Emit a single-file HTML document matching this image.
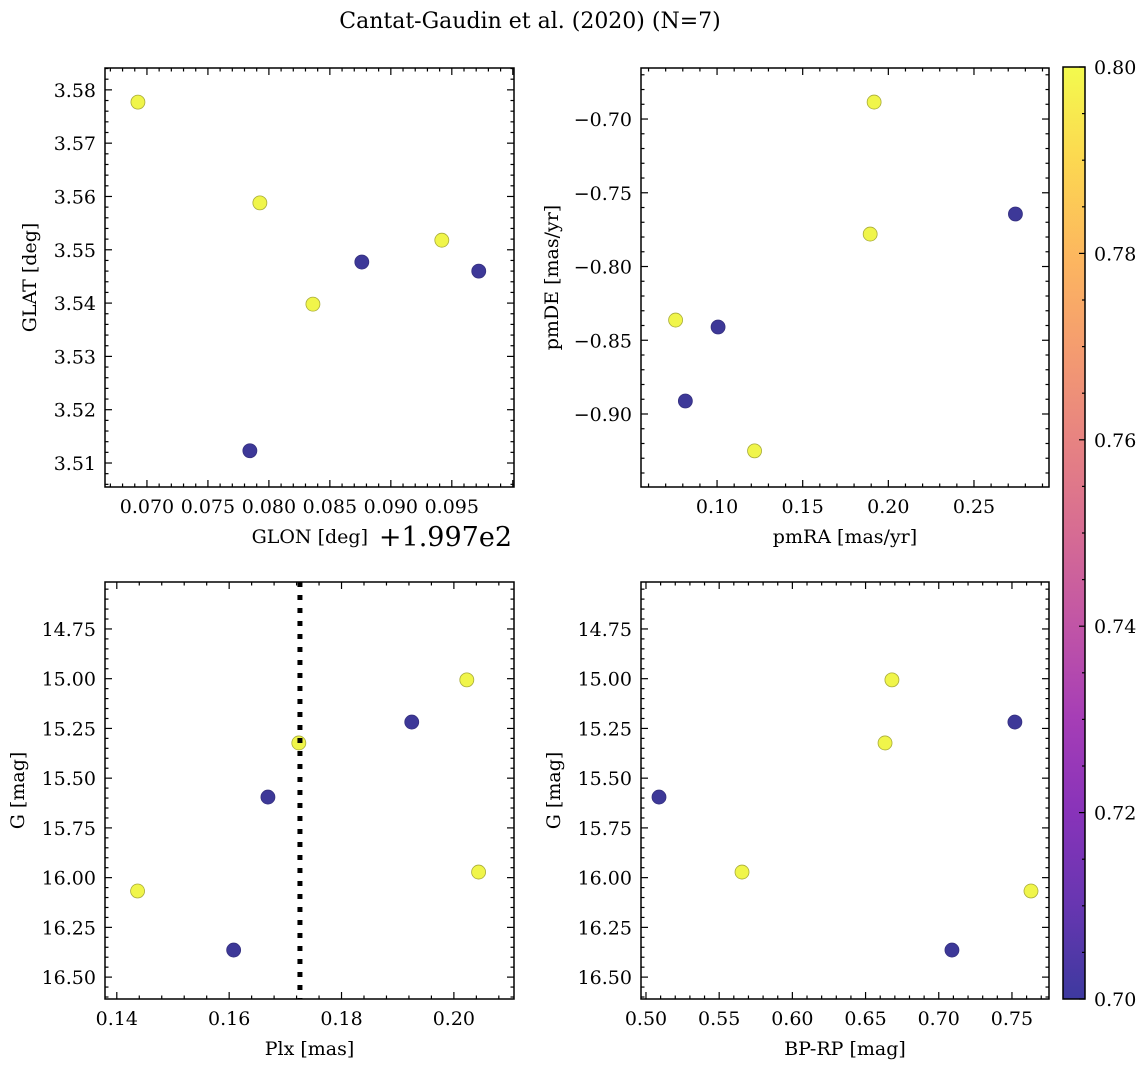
<!DOCTYPE html>
<html><head><meta charset="utf-8">
<style>
html,body{margin:0;padding:0;background:#fff;}
svg{display:block;font-family:"DejaVu Serif","Liberation Serif",serif;}
</style></head>
<body>
<svg id="fig" width="1148" height="1067" viewBox="0 0 1148 1067" xmlns="http://www.w3.org/2000/svg">
<defs>
<linearGradient id="plasma" x1="0" y1="1" x2="0" y2="0">
<stop offset="0" stop-color="#0d0887"/><stop offset="0.1" stop-color="#41049d"/>
<stop offset="0.2" stop-color="#6a00a8"/><stop offset="0.3" stop-color="#8f0da4"/>
<stop offset="0.4" stop-color="#b12a90"/><stop offset="0.5" stop-color="#cc4778"/>
<stop offset="0.6" stop-color="#e16462"/><stop offset="0.7" stop-color="#f2844b"/>
<stop offset="0.8" stop-color="#fca636"/><stop offset="0.9" stop-color="#fcce25"/>
<stop offset="1" stop-color="#f0f921"/>
</linearGradient>
</defs>
<text x="530" y="28" font-size="22" text-anchor="middle">Cantat-Gaudin et al. (2020) (N=7)</text>
</svg>
<script>
// Data arrays
const clr = [0.8, 0.8, 0.8, 0.8, 0.7, 0.7, 0.7];
const glon = [0.06926, 0.07926, 0.08361, 0.09418, 0.07844, 0.08762, 0.09721];
const glat = [3.5777, 3.5588, 3.5398, 3.5518, 3.5123, 3.5477, 3.5460];
const pmra = [0.0758, 0.1219, 0.1917, 0.1894, 0.2742, 0.1006, 0.0815];
const pmde = [-0.8363, -0.925, -0.6885, -0.778, -0.7644, -0.841, -0.8912];
const plx = [0.1437, 0.2023, 0.1724, 0.2044, 0.1925, 0.1669, 0.1608];
const gmag = [16.067, 15.006, 15.323, 15.972, 15.218, 15.595, 16.364];
const bprp = [0.763, 0.668, 0.6633, 0.5656, 0.752, 0.5089, 0.709];
const plxRef = [0.1726];
const tlXTicks = ["0.070","0.075","0.080","0.085","0.090","0.095"];
const tlYTicks = ["3.51","3.52","3.53","3.54","3.55","3.56","3.57","3.58"];
const trXTicks = ["0.10","0.15","0.20","0.25"];
const trYTicks = ["-0.90","-0.85","-0.80","-0.75","-0.70"];
const blXTicks = ["0.14","0.16","0.18","0.20"];
const gTicks = ["14.75","15.00","15.25","15.50","15.75","16.00","16.25","16.50"];
const brXTicks = ["0.50","0.55","0.60","0.65","0.70","0.75"];
const cbTicks = ["0.70","0.72","0.74","0.76","0.78","0.80"];

const svg = document.getElementById('fig');
const NS = 'http://www.w3.org/2000/svg';
const FS = 19;
function mk(tag, attrs, parent){const e=document.createElementNS(NS,tag);for(const k in attrs)e.setAttribute(k,attrs[k]);(parent||svg).appendChild(e);return e;}
function colorOf(v){return v>0.75?'#f0f54a':'#3d3898';}
function edgeOf(v){return v>0.75?'#a8ab3a':'#35307f';}
function fmt(s){return s.replace('-','\u2212');}

function panel(name, box, xr, yr, xMajor, xMinor, yMajor, yMinor, xt, yt, xs, ys, xlabel, ylabel, opts){
  const [L,T,R,B]=box;
  const g=mk('g',{});
  
  
  const sx=v=>L+(v-xr[0])/(xr[1]-xr[0])*(R-L);
  const sy=v=> opts.invY ? T+(v-yr[0])/(yr[1]-yr[0])*(B-T) : B-(v-yr[0])/(yr[1]-yr[0])*(B-T);
  const eps=1e-9;
  for(let v=Math.ceil(xr[0]/xMinor-eps)*xMinor; v<=xr[1]+eps; v+=xMinor){
    const x=sx(v); const maj=Math.abs(v/xMajor-Math.round(v/xMajor))<1e-4; const len=maj?7:3.5;
    mk('line',{x1:x,y1:B,x2:x,y2:B-len,stroke:'#000','stroke-width':1.2},g);
    mk('line',{x1:x,y1:T,x2:x,y2:T+len,stroke:'#000','stroke-width':1.2},g);
  }
  for(let v=Math.ceil(yr[0]/yMinor-eps)*yMinor; v<=yr[1]+eps; v+=yMinor){
    const y=sy(v); const maj=Math.abs(v/yMajor-Math.round(v/yMajor))<1e-4; const len=maj?7:3.5;
    mk('line',{x1:L,y1:y,x2:L+len,y2:y,stroke:'#000','stroke-width':1.2},g);
    mk('line',{x1:R,y1:y,x2:R-len,y2:y,stroke:'#000','stroke-width':1.2},g);
  }
  xt.forEach(s=>{const t=mk('text',{x:sx(parseFloat(s)),y:B+26,'font-size':FS,'text-anchor':'middle'},g);t.textContent=fmt(s);
    
    });
  yt.forEach(s=>{const t=mk('text',{x:L-9,y:sy(parseFloat(s))+7,'font-size':FS,'text-anchor':'end'},g);t.textContent=fmt(s);
    
    });
  xs.forEach((v,i)=>{const c=mk('circle',{cx:sx(v),cy:sy(ys[i]),r:7,fill:colorOf(clr[i]),stroke:edgeOf(clr[i]),'stroke-width':0.8},g);
    
    });
  if(opts.vline){opts.vline.forEach(v=>{const l=mk('line',{x1:sx(v),y1:T,x2:sx(v),y2:B,stroke:'#000','stroke-width':5,'stroke-dasharray':'5 8'},g);
    
    });}
  mk('rect',{x:L,y:T,width:R-L,height:B-T,fill:'none',stroke:'#000','stroke-width':1.5},g);
  const xl=mk('text',{x:opts.xlx||(L+R)/2,y:B+56,'font-size':FS,'text-anchor':opts.xlx?'end':'middle'},g);xl.textContent=xlabel;
  
  
  const yx=opts.ylx, yy=(T+B)/2;
  const yl=mk('text',{x:yx,y:yy,'font-size':FS,'text-anchor':'middle',transform:`rotate(-90 ${yx} ${yy})`},g);yl.textContent=ylabel;
  
  
}
panel('panel-glon-glat',[105,68,514,487],[0.06656,0.1001],[3.5055,3.5841],0.005,0.001,0.01,0.002,tlXTicks,tlYTicks,glon,glat,'GLON [deg]','GLAT [deg]',{ylx:36,xlx:368});
const off=mk('text',{x:512,y:546,'font-size':27,'text-anchor':'end'});off.textContent='+1.997e2';


panel('panel-pm',[641,68,1049,487],[0.0556,0.2938],[-0.9495,-0.6654],0.05,0.01,0.05,0.01,trXTicks,trYTicks,pmra,pmde,'pmRA [mas/yr]','pmDE [mas/yr]',{ylx:558});
panel('panel-plx-g',[105,582,514,999],[0.1379,0.2107],[14.514,16.61],0.02,0.004,0.25,0.05,blXTicks,gTicks,plx,gmag,'Plx [mas]','G [mag]',{invY:true,ylx:24,vline:plxRef});
panel('panel-bprp-g',[641,582,1049,999],[0.4966,0.7753],[14.514,16.61],0.05,0.01,0.25,0.05,brXTicks,gTicks,bprp,gmag,'BP-RP [mag]','G [mag]',{invY:true,ylx:560});

const cb=mk('g',{});


const CL=1063,CR=1085,CT=67,CB=999;
mk('rect',{x:CL,y:CT,width:CR-CL,height:CB-CT,fill:'url(#plasma)','fill-opacity':0.8},cb);
const cy=v=>CB-(v-0.70)/0.10*(CB-CT);
for(let k=0;k<=20;k++){const v=0.70+k*0.005;const maj=k%4===0;const y=cy(v);
  mk('line',{x1:CR,y1:y,x2:CR-(maj?6:3),y2:y,stroke:'#000','stroke-width':1.2},cb);}
cbTicks.forEach(s=>{const t=mk('text',{x:CR+9,y:cy(parseFloat(s))+7,'font-size':FS},cb);t.textContent=s;
  
  });
mk('rect',{x:CL,y:CT,width:CR-CL,height:CB-CT,fill:'none',stroke:'#000','stroke-width':1.5},cb);
</script>
</body></html>
